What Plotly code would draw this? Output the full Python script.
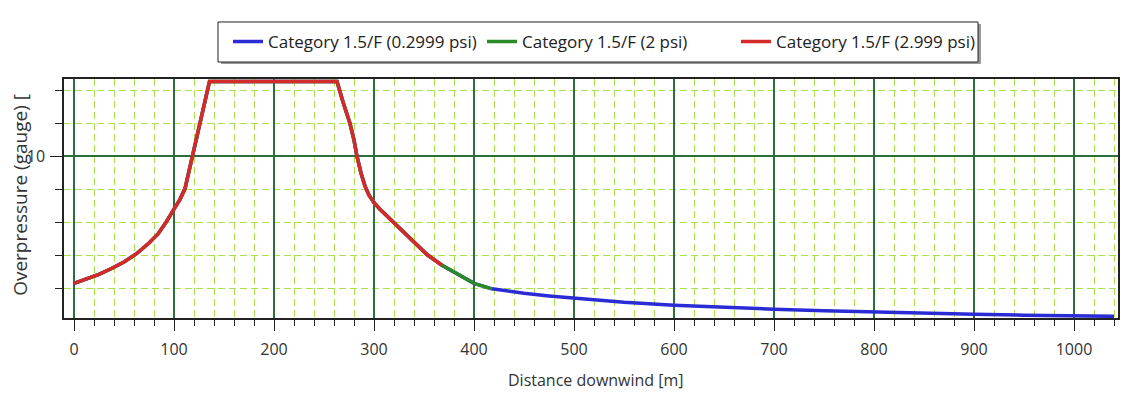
import plotly.graph_objects as go

# distance downwind [m] and overpressure readings
distance_m = [0, 12.5, 25, 37.5, 50, 62.5, 75, 84, 92, 100, 106, 111, 114.5, 118.5, 122, 126, 131, 135.5,
              200, 263, 269, 276, 280, 283, 287, 291, 295, 300, 306, 312, 324, 338, 353, 368, 385, 400, 418,
              435, 450, 475, 500, 550, 600, 650, 700, 750, 800, 850, 900, 950, 1000, 1040]
overpressure = [2.3, 2.55, 2.85, 3.2, 3.6, 4.1, 4.75, 5.3, 6.0, 6.8, 7.4, 8.05, 9.0, 10.0, 11.0, 12.0, 13.4, 14.55,
                14.55, 14.55, 13.3, 12.0, 11.0, 10.0, 9.0, 8.2, 7.65, 7.2, 6.8, 6.45, 5.75, 4.95, 4.05, 3.4, 2.8, 2.3, 1.97,
                1.82, 1.7, 1.54, 1.4, 1.15, 0.97, 0.84, 0.73, 0.64, 0.55, 0.48, 0.42, 0.37, 0.33, 0.3]

series_names = ["Category 1.5/F (0.2999 psi)", "Category 1.5/F (2 psi)", "Category 1.5/F (2.999 psi)"]
series_end_m = [1040, 418, 368]
series_colors = ["#2b2bd6", "#2a8a2a", "#d42a2a"]

x_ticks = list(range(0, 1001, 100))
y_ticks = [10]
x_title = "Distance downwind [m]"
y_title = "Overpressure (gauge) ["

fig = go.Figure()
for name, end, color in zip(series_names, series_end_m, series_colors):
    xs = [d for d in distance_m if d <= end]
    ys = overpressure[:len(xs)]
    fig.add_trace(go.Scatter(x=xs, y=ys, mode="lines", name=name,
                             line=dict(color=color, width=3.5)))

font_family = "Open Sans, DejaVu Sans, sans-serif"

# legend frame (drawn as shapes, paper coordinates)
fig.add_shape(type="rect", xref="paper", yref="paper", x0=0.1490, x1=0.8700, y0=1.0625, y1=1.2300,
              line=dict(width=0), fillcolor="#9a9a9a", layer="below")
fig.add_shape(type="rect", xref="paper", yref="paper", x0=0.1461, x1=0.8672, y0=1.0711, y1=1.2385,
              line=dict(width=1, color="#222222"), fillcolor="white", layer="below")

# axis titles as annotations for exact placement
fig.add_annotation(text=x_title, xref="paper", yref="paper", x=0.5047, y=-0.259,
                   xanchor="center", yanchor="middle", showarrow=False,
                   font=dict(size=16, color="#333333"))
fig.add_annotation(text=y_title, xref="paper", yref="paper", x=-0.0418, y=0.515, textangle=-90,
                   xanchor="center", yanchor="middle", showarrow=False,
                   font=dict(size=19, color="#333333"))

# page body has an 8px default margin, so the figure is 8px smaller and margins shifted
fig.update_layout(
    width=1120, height=385,
    margin=dict(l=56, r=10, t=71, b=75, autoexpand=False),
    paper_bgcolor="white", plot_bgcolor="white",
    font=dict(family=font_family, size=16, color="#333333"),
    showlegend=True,
    legend=dict(orientation="h", x=0.1556, xanchor="left", y=1.155, yanchor="middle",
                bgcolor="rgba(0,0,0,0)", borderwidth=0, entrywidth=209, entrywidthmode="pixels",
                font=dict(size=17, color="#222222")),
    xaxis=dict(range=[-10, 1044], tickvals=x_ticks, ticks="outside", ticklen=11, automargin=False,
               ticklabelstandoff=5,
               tickcolor="#222222", showline=True, linecolor="#222222", linewidth=1.5,
               mirror=True, showgrid=True, gridcolor="#2f6e3a", gridwidth=1.5, zeroline=False,
               minor=dict(dtick=20, ticks="outside", ticklen=6, tickcolor="#222222",
                          showgrid=True, gridcolor="#a8e050", griddash="7px,4px", gridwidth=1)),
    yaxis=dict(range=[0.2, 14.7], tickvals=y_ticks, ticks="outside", ticklen=12, automargin=False,
               ticklabelstandoff=2,
               tickcolor="#222222", showline=True, linecolor="#222222", linewidth=1.5,
               mirror=True, showgrid=True, gridcolor="#2f6e3a", gridwidth=1.5, zeroline=False,
               minor=dict(dtick=2, tick0=0, ticks="outside", ticklen=7, tickcolor="#222222",
                          showgrid=True, gridcolor="#a8e050", griddash="7px,4px", gridwidth=1)),
)

fig.write_html("out.html")
